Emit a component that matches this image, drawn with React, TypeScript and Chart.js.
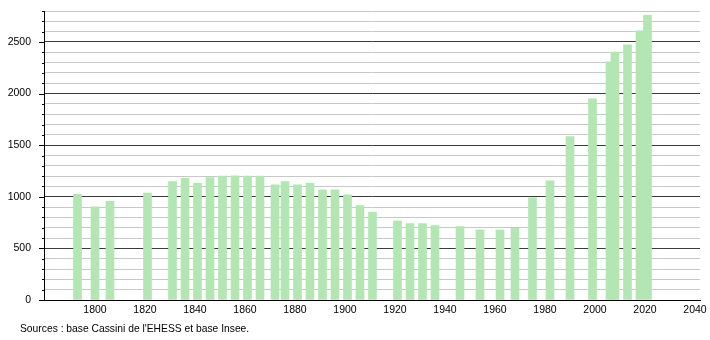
import React, { useEffect, useRef } from "react";
import { Chart, registerables } from "chart.js";

Chart.register(...registerables);

const years = [1793, 1800, 1806, 1821, 1831, 1836, 1841, 1846, 1851, 1856, 1861, 1866, 1872, 1876, 1881, 1886, 1891, 1896, 1901, 1906, 1911, 1921, 1926, 1931, 1936, 1946, 1954, 1962, 1968, 1975, 1982, 1990, 1999, 2006, 2008, 2013, 2018, 2021];
const population = [1025, 903, 957, 1035, 1148, 1180, 1130, 1187, 1200, 1203, 1200, 1200, 1115, 1147, 1115, 1131, 1067, 1067, 1018, 915, 853, 766, 740, 740, 721, 711, 679, 679, 695, 990, 1154, 1584, 1950, 2308, 2402, 2473, 2609, 2758];
const xTickLabels = [1800, 1820, 1840, 1860, 1880, 1900, 1920, 1940, 1960, 1980, 2000, 2020, 2040];
const yMajorStep = 500;
const yMinorStep = 100;
const sourceText = "Sources : base Cassini de l'EHESS et base Insee.";

const FONT = "'Liberation Sans', Arial, Helvetica, sans-serif";

const yTickMarks = {
  id: "yTickMarks",
  afterDraw(chart: any) {
    const y = chart.scales.y;
    const ctx = chart.ctx;
    const left = chart.chartArea.left;
    ctx.save();
    ctx.strokeStyle = "#000";
    ctx.lineWidth = 1;
    for (let v = y.min; v <= y.max; v += yMinorStep) {
      const py = Math.round(y.getPixelForValue(v)) + 0.5;
      const len = v % yMajorStep === 0 ? 5 : 2;
      ctx.beginPath();
      ctx.moveTo(left - len, py);
      ctx.lineTo(left + 0.5, py);
      ctx.stroke();
    }
    ctx.restore();
  },
};

export default function App() {
  const ref = useRef<HTMLCanvasElement>(null);
  useEffect(() => {
    document.body.style.margin = "0";
    const chart = new Chart(ref.current!, {
      type: "bar",
      data: {
        datasets: [
          {
            data: years.map((x, i) => ({ x, y: population[i] })),
            backgroundColor: "rgb(179,230,179)",
            borderWidth: 0,
            barThickness: 8,
          },
        ],
      },
      options: {
        animation: false,
        responsive: false,
        maintainAspectRatio: false,
        layout: { padding: { left: 0, right: 10, top: 11, bottom: 0 } },
        plugins: { legend: { display: false }, tooltip: { enabled: false } },
        scales: {
          x: {
            type: "linear",
            min: 1779.6,
            max: 2042,
            offset: false,
            grid: { display: false, drawTicks: false, offset: false },
            border: { color: "#000", width: 1 },
            afterBuildTicks: (scale: any) => {
              scale.ticks = xTickLabels.map((v) => ({ value: v }));
            },
            afterFit: (scale: any) => {
              scale.height = 40;
              scale.paddingLeft = 0;
              scale.paddingRight = 0;
            },
            ticks: {
              autoSkip: false,
              maxRotation: 0,
              padding: 4,
              color: "#000",
              font: { family: FONT, size: 10.5 },
              callback: (v: any) => String(v),
            },
          },
          y: {
            min: 0,
            max: 2800,
            grid: {
              drawTicks: false,
              color: (c: any) => (c.tick && c.tick.value % yMajorStep === 0 ? "#3a3a3a" : "#c8c8c8"),
            },
            border: { color: "#000", width: 1 },
            afterFit: (scale: any) => {
              scale.width = 44;
              scale.paddingTop = 0;
              scale.paddingBottom = 0;
            },
            ticks: {
              stepSize: yMinorStep,
              autoSkip: false,
              padding: 13,
              color: "#000",
              font: { family: FONT, size: 10.5 },
              callback: (v: any) => (Number(v) % yMajorStep === 0 ? String(v) : ""),
            },
          },
        },
      },
      plugins: [yTickMarks],
    });
    return () => chart.destroy();
  }, []);
  return (
    <div style={{ position: "relative", width: 710, height: 340, background: "#fff" }}>
      <canvas ref={ref} width={710} height={340} style={{ display: "block" }} />
      <div
        style={{
          position: "absolute",
          left: 20,
          top: 323,
          fontFamily: FONT,
          fontSize: "10.3px",
          color: "#000",
          whiteSpace: "nowrap",
        }}
      >
        {sourceText}
      </div>
    </div>
  );
}
